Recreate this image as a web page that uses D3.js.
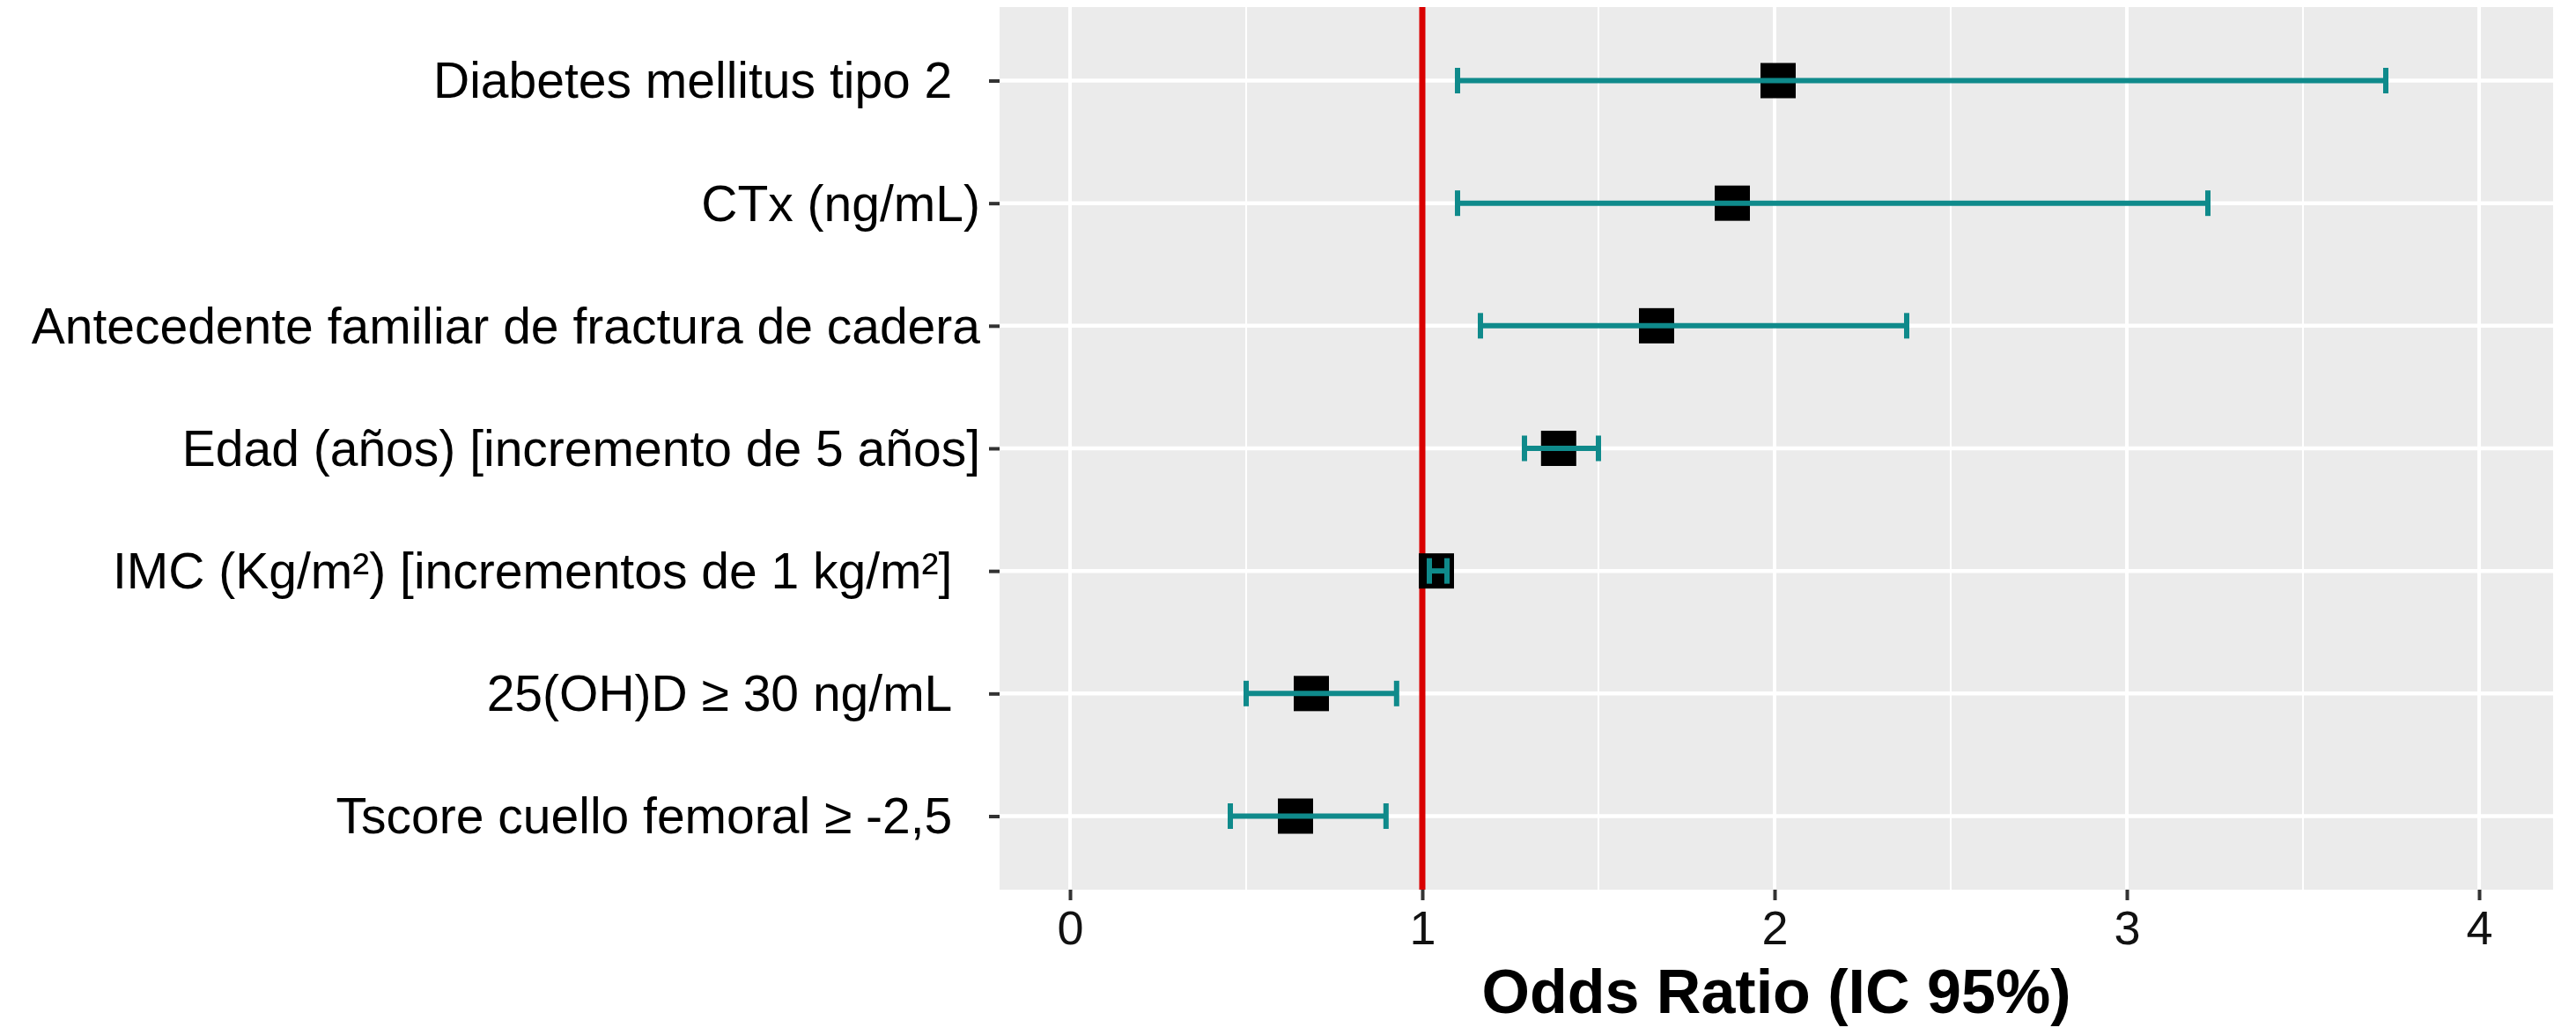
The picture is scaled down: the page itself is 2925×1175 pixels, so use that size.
<!DOCTYPE html>
<html>
<head>
<meta charset="utf-8">
<script src="https://cdn.jsdelivr.net/npm/d3@7"></script>
<style>
  html, body { margin: 0; padding: 0; background: #fff; }
  text { font-family: "Liberation Sans", Arial, sans-serif; }
</style>
</head>
<body>
<script>
// Forest plot data, top row first
const labels = [
  "Diabetes mellitus tipo 2\u00a0\u00a0",
  "CTx (ng/mL)",
  "Antecedente familiar de fractura de cadera",
  "Edad (años) [incremento de 5 años]",
  "IMC (Kg/m²) [incrementos de 1 kg/m²]\u00a0\u00a0",
  "25(OH)D ≥ 30 ng/mL\u00a0\u00a0",
  "Tscore cuello femoral ≥ -2,5\u00a0\u00a0"
];
const oddsRatio = [2.01, 1.88, 1.665, 1.387, 1.04, 0.685, 0.64];
const lowerCI = [1.10, 1.10, 1.165, 1.29, 1.02, 0.50, 0.455];
const upperCI = [3.735, 3.23, 2.375, 1.50, 1.07, 0.927, 0.897];
const xTicks = [0, 1, 2, 3, 4];
const xMinor = [0.5, 1.5, 2.5, 3.5];
const refLine = 1;
const xTitle = "Odds Ratio (IC 95%)";

const rows = labels.map((label, i) => ({
  label, or: oddsRatio[i], lo: lowerCI[i], hi: upperCI[i]
}));

const width = 2925, height = 1175;
const panel = {left: 1135, right: 2899, top: 8, bottom: 1010};
const barColor = "#0f8a8b";

const x = d3.scaleLinear()
  .domain([-0.2, 4.21])
  .range([panel.left, panel.right]);

const y = d3.scalePoint()
  .domain(labels)
  .range([panel.top, panel.bottom])
  .padding(0.6);

const svg = d3.select("body")
  .append("svg")
  .attr("width", width)
  .attr("height", height);

// Panel background
svg.append("rect")
  .attr("x", panel.left)
  .attr("y", panel.top)
  .attr("width", panel.right - panel.left)
  .attr("height", panel.bottom - panel.top)
  .attr("fill", "#ebebeb");

// Grid lines
const grid = svg.append("g").attr("stroke", "#fff");

grid.selectAll(".minor")
  .data(xMinor)
  .join("line")
  .attr("stroke-width", 2)
  .attr("x1", (d) => x(d))
  .attr("x2", (d) => x(d))
  .attr("y1", panel.top)
  .attr("y2", panel.bottom);

grid.selectAll(".major-x")
  .data(xTicks)
  .join("line")
  .attr("stroke-width", 4)
  .attr("x1", (d) => x(d))
  .attr("x2", (d) => x(d))
  .attr("y1", panel.top)
  .attr("y2", panel.bottom);

grid.selectAll(".major-y")
  .data(labels)
  .join("line")
  .attr("stroke-width", 4.5)
  .attr("x1", panel.left)
  .attr("x2", panel.right)
  .attr("y1", (d) => y(d))
  .attr("y2", (d) => y(d));

// Reference line at OR = 1
svg.append("line")
  .attr("x1", x(refLine))
  .attr("x2", x(refLine))
  .attr("y1", panel.top)
  .attr("y2", panel.bottom)
  .attr("stroke", "#d90000")
  .attr("stroke-width", 7);

// Point estimates
const size = 40;
svg.append("g")
  .selectAll("rect")
  .data(rows)
  .join("rect")
  .attr("x", (d) => x(d.or) - size / 2)
  .attr("y", (d) => y(d.label) - size / 2)
  .attr("width", size)
  .attr("height", size)
  .attr("fill", "#000");

// Error bars, drawn over the squares
const capH = 29;
const bars = svg.append("g")
  .attr("stroke", barColor)
  .attr("stroke-width", 6)
  .selectAll("g")
  .data(rows)
  .join("g");

bars.append("line")
  .attr("x1", (d) => x(d.lo))
  .attr("x2", (d) => x(d.hi))
  .attr("y1", (d) => y(d.label))
  .attr("y2", (d) => y(d.label));

bars.append("line")
  .attr("x1", (d) => x(d.lo))
  .attr("x2", (d) => x(d.lo))
  .attr("y1", (d) => y(d.label) - capH / 2)
  .attr("y2", (d) => y(d.label) + capH / 2);

bars.append("line")
  .attr("x1", (d) => x(d.hi))
  .attr("x2", (d) => x(d.hi))
  .attr("y1", (d) => y(d.label) - capH / 2)
  .attr("y2", (d) => y(d.label) + capH / 2);

// Y axis
const yAxis = svg.append("g")
  .attr("transform", `translate(${panel.left},0)`)
  .call(d3.axisLeft(y).tickSize(12).tickPadding(10));
yAxis.select(".domain").remove();
yAxis.selectAll(".tick line").attr("stroke", "#333").attr("stroke-width", 4);
yAxis.selectAll(".tick text")
  .attr("font-size", 57)
  .attr("fill", "#000")
  .attr("dy", "0.34em");

// X axis
const xAxis = svg.append("g")
  .attr("transform", `translate(0,${panel.bottom})`)
  .call(d3.axisBottom(x).tickValues(xTicks).tickFormat(d3.format("d")).tickSize(12).tickPadding(12));
xAxis.select(".domain").remove();
xAxis.selectAll(".tick line").attr("stroke", "#333").attr("stroke-width", 4);
xAxis.selectAll(".tick text")
  .attr("font-size", 54)
  .attr("fill", "#111");

// X axis title
svg.append("text")
  .attr("x", (panel.left + panel.right) / 2)
  .attr("y", 1150)
  .attr("text-anchor", "middle")
  .attr("font-size", 70)
  .attr("font-weight", "bold")
  .attr("fill", "#000")
  .text(xTitle);
</script>
</body>
</html>
